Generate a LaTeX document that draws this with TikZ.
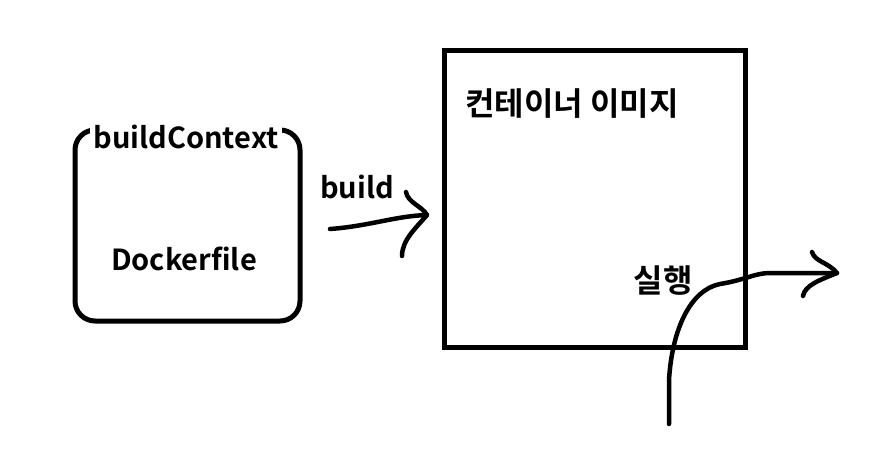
\documentclass[tikz,border=0pt]{standalone}
\usepackage{fontspec}
\setmainfont{Noto Sans CJK KR}[BoldFont={Noto Sans CJK KR Bold}]
\begin{document}
\begin{tikzpicture}[x=1pt,y=-1pt,
  lbl/.style={font=\bfseries\fontsize{29}{34}\selectfont, inner sep=0pt},
  klbl/.style={font=\bfseries\fontsize{32}{38}\selectfont, inner sep=0pt},
  pen/.style={line width=4.5pt, line cap=round, line join=round},
  frame/.style={draw, line width=5pt, inner sep=0pt, outer sep=0pt}]
\useasboundingbox (0,0) rectangle (881,471);
% build context box
\node[frame, rounded corners=20pt, minimum width=225pt, minimum height=191pt, anchor=north west] (ctx) at (75,130) {};
\node[lbl, fill=white, inner xsep=3pt, inner ysep=2pt] (ctxlbl) at (186,137) {buildContext};
\node[lbl] (docker) at (184,259) {Dockerfile};
% image box
\node[frame, minimum width=301pt, minimum height=297pt, anchor=north west] (img) at (444,50) {};
\node[klbl] (imglbl) at (572,104) {컨테이너 이미지};
\node[klbl] (run) at (663,281) {실행};
\node[lbl] (build) at (357,187) {build};
% build arrow
\coordinate (b0) at (330,229);
\coordinate (b1) at (427,215);
\draw[pen] (b0) .. controls (370,226) and (395,216) .. (b1);
\draw[pen] (406,192) .. controls (408,203) and (422,206) .. (b1) .. controls (416,228) and (402,240) .. (402,256);
% run arrow
\coordinate (r0) at (669,424);
\coordinate (r1) at (837,273);
\draw[pen] (r0) -- (669,380) .. controls (672,330) and (690,290) .. (720,284) .. controls (745,280) and (755,273) .. (770,273) -- (r1);
\draw[pen] (812,252) .. controls (815,262) and (828,262) .. (r1) .. controls (820,280) and (805,285) .. (803,296);
\end{tikzpicture}
\end{document}
